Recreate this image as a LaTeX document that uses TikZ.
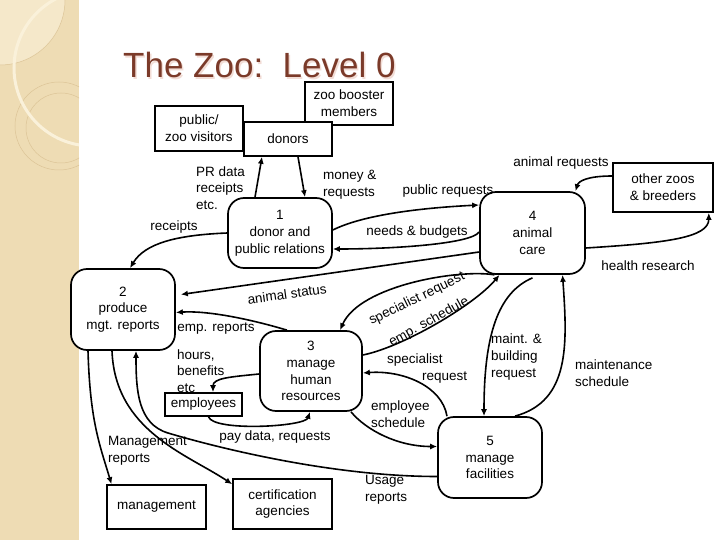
\documentclass[tikz,border=0pt]{standalone}
\usepackage{fontspec}
\setmainfont{Liberation Sans}
\usepackage{tikz}
\usetikzlibrary{arrows.meta}
\definecolor{ttl}{HTML}{7B3A29}
\definecolor{ttlshade}{HTML}{F2DDD6}
\definecolor{strip}{HTML}{EEDCB4}
\definecolor{stripline}{HTML}{DCC497}
\definecolor{stripglow}{HTML}{FAF1DA}
\newcommand{\zoolab}{\fontsize{13.5}{16.8}\selectfont}
\tikzset{
  ent/.style={draw, line width=1.6pt, fill=white, align=center,
              font=\zoolab, inner sep=2pt},
  proc/.style={draw, line width=1.7pt, rounded corners=16pt, fill=white,
               align=center, font=\zoolab, inner sep=2pt},
  ar/.style={-{Latex[length=7pt,width=6pt]}, line width=1.6pt},
  lbl/.style={font=\zoolab, align=left, inner sep=0pt},
}

\begin{document}
\begin{tikzpicture}[x=1pt, y=-1pt]
\useasboundingbox (0,0) rectangle (720,540);
\fill[white] (0,0) rectangle (720,540);
\begin{scope}
\clip (0,0) rectangle (79,540);
\fill[strip] (0,0) rectangle (79,540);
\fill[stripglow, opacity=0.6] (0,0) circle (65);
\draw[stripline, line width=0.5pt] (0,0) circle (65);
\draw[stripline, line width=0.5pt] (59,126) circle (44);
\draw[stripline, line width=0.5pt] (61,128) circle (35);
\draw[stripglow, line width=3pt] (92,68) circle (78);
\end{scope}

\node[anchor=base west, inner sep=0pt, font=\fontsize{35}{40}\selectfont,
      text=ttlshade] (ttlsh) at (124.5,79.5) {The Zoo:\ \ Level 0};
\node[anchor=base west, inner sep=0pt, font=\fontsize{35}{40}\selectfont,
      text=ttl] (ttl) at (123,78) {The Zoo:\ \ Level 0};

\node[ent, minimum width=88pt, minimum height=43pt] (booster) at (349,103.5) {zoo booster\\members};
\node[ent, minimum width=88pt, minimum height=45pt] (visitors) at (199,128.5) {public/\\zoo visitors};
\node[ent, minimum width=88pt, minimum height=34pt] (donors) at (288,139) {donors};
\node[ent, minimum width=100pt, minimum height=49pt] (zoos) at (663,187.5) {other zoos\\\& breeders};
\node[ent, minimum width=77pt, minimum height=23pt, inner sep=1pt] (emp) at (203.5,404.5) {employees};
\node[ent, minimum width=99pt, minimum height=44pt] (mgmt) at (156.5,507) {management};
\node[ent, minimum width=99pt, minimum height=50pt] (cert) at (282.5,504) {certification\\agencies};

\node[proc, minimum width=104pt, minimum height=70pt] (p1) at (280,233) {1\\donor and\\public relations};
\node[proc, minimum width=104pt, minimum height=81pt] (p2) at (123,309.5) {2\\produce\\mgt. reports};
\node[proc, minimum width=102pt, minimum height=80pt] (p3) at (311,371) {3\\manage\\human\\resources};
\node[proc, minimum width=105pt, minimum height=82pt] (p4) at (532.5,233) {4\\animal\\care};
\node[proc, minimum width=104pt, minimum height=81pt] (p5) at (490,457.5) {5\\manage\\facilities};

\draw[ar] ([xshift=-25pt]p1.north) -- ([xshift=-26pt]donors.south);
\draw[ar] ([xshift=10pt]donors.south) -- ([xshift=25pt]p1.north);
\draw[ar] (p1.west) .. controls +(-50,2) and +(15,-25) .. ([xshift=7pt]p2.north);
\draw[ar] ([yshift=3pt]p1.east) .. controls +(30,-15) and +(-60,3) .. ([yshift=28pt]p4.west);
\draw[ar] ([yshift=1pt]p4.west) .. controls +(-8,12) and +(60,0) .. ([yshift=-16pt]p1.east);
\draw[ar] ([yshift=-19pt]p4.west) -- ([xshift=5pt,yshift=15pt]p2.east);
\draw[ar] ([xshift=-24pt]p3.north) .. controls +(-40,-12) and +(30,-2) .. ([yshift=-3pt]p2.east);
\draw[ar] ([yshift=-3pt]p3.west) .. controls +(-30,3) and +(0,-14) .. ([xshift=9.5pt]emp.north);
\draw[ar] ([xshift=5pt]emp.south) .. controls +(5,15) and +(-5,15) .. ([xshift=-1pt]p3.south);
\draw[ar] ([xshift=-35pt]p2.south) .. controls +(2,70) and +(-12,-40) .. ([xshift=-45pt]mgmt.north);
\draw[ar] ([xshift=-11pt]p2.south) .. controls +(3,80) and +(-45,-30) .. ([yshift=-6pt]cert.north west);
\draw[ar] ([yshift=-19pt]p5.west) .. controls +(-110,0) and +(40,12) .. (168,433)
          .. controls +(-30,-9) and +(0,40) .. ([xshift=13pt]p2.south);
\draw[ar] ([xshift=-38pt]p4.south) .. controls +(-35,-6) and +(20,-45) .. ([xshift=29pt]p3.north);
\draw[ar] ([yshift=16pt]p3.east) .. controls +(40,-8) and +(-25,30) .. ([xshift=-33pt]p4.south);
\draw[ar] ([yshift=-3pt]p4.south) .. controls +(-35,15) and +(0,-80) .. ([xshift=-6pt]p5.north);
\draw[ar] ([xshift=25pt]p5.north) .. controls +(55,-15) and +(5,70) .. ([xshift=30pt]p4.south);
\draw[ar] ([xshift=-43pt]p5.north) .. controls +(-5,-30) and +(40,-3) .. ([yshift=-2pt]p3.east);
\draw[ar] ([xshift=40pt]p3.south) .. controls +(15,18) and +(-40,0) .. ([yshift=11pt]p5.west);
\draw[ar] ([yshift=11.5pt]zoos.west) .. controls +(-25,0) and +(3,-10) .. ([xshift=43pt]p4.north);
\draw[ar] ([yshift=-15pt]p4.east) .. controls +(80,-5) and +(0,25) .. ([xshift=-5pt]zoos.south east);

\node[lbl, anchor=west] (lprd) at (196,188) {PR data\\receipts\\etc.};
\node[lbl, anchor=west] (lmoney) at (323,185) {money \&\\requests};
\node[lbl] (lrec) at (174,227) {receipts};
\node[lbl] (lpub) at (448,191) {public requests};
\node[lbl] (lneeds) at (417,232) {needs \& budgets};
\node[lbl, rotate=8] (lstat) at (287,294) {animal status};
\node[lbl] (lempr) at (216,329) {emp. reports};
\node[lbl, anchor=west] (lhours) at (177,371) {hours,\\benefits\\etc};
\node[lbl] (lpay) at (275,437) {pay data, requests};
\node[lbl, anchor=west] (lmgmt) at (108,451) {Management\\reports};
\node[lbl, anchor=west] (lusage) at (365,490) {Usage\\reports};
\node[lbl, rotate=26] (lspec) at (417,299) {specialist request};
\node[lbl, rotate=29] (lsched) at (429,322) {emp. schedule};
\node[lbl, anchor=west] (lmaint) at (491,357) {maint. \&\\building\\request};
\node[lbl, anchor=west] (lmsch) at (575,373) {maintenance\\schedule};
\node[lbl, anchor=west] (lspec2) at (387,368.5) {specialist\\\hspace*{35pt}request};
\node[lbl, anchor=west] (lesch) at (371,414.5) {employee\\schedule};
\node[lbl] (lareq) at (561,163) {animal requests};
\node[lbl] (lhealth) at (648,266) {health research};
\end{tikzpicture}
\end{document}
